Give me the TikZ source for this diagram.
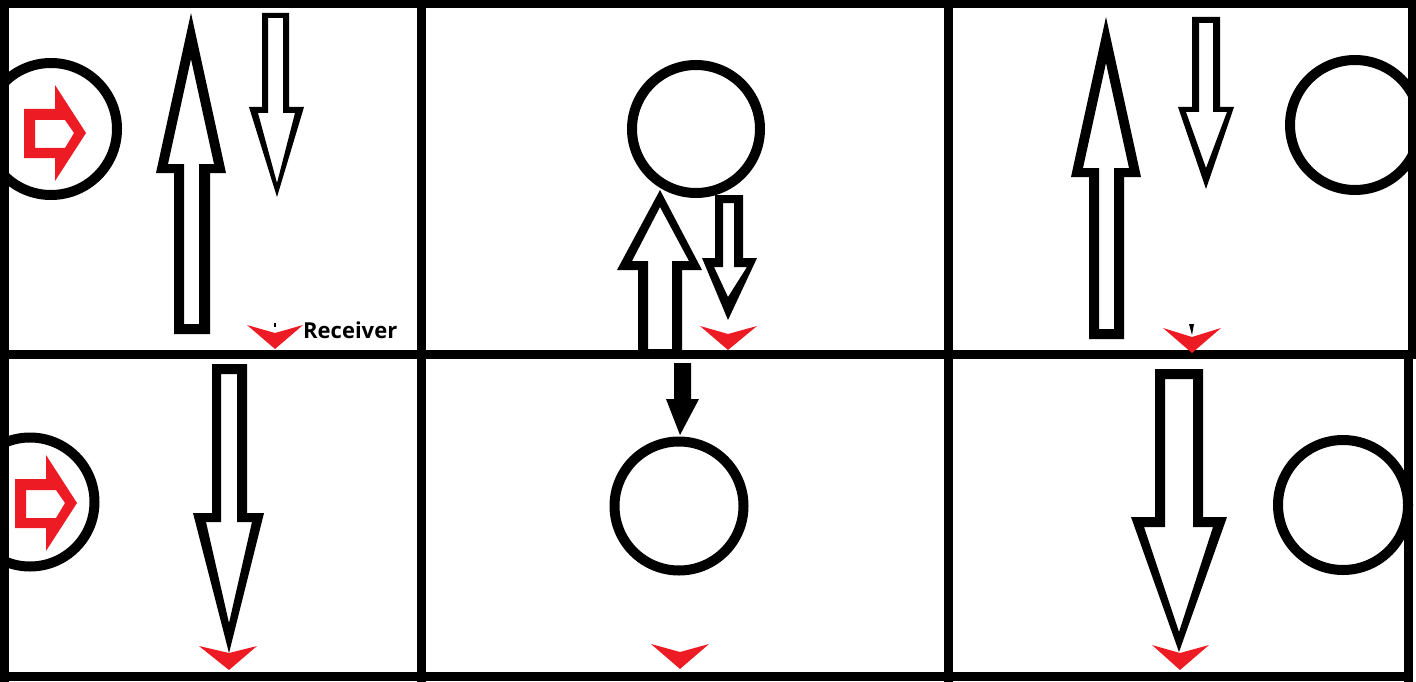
\documentclass[tikz,border=0pt]{standalone}
\usepackage{fontspec}
\newfontfamily\recfont{Open Sans}
\definecolor{mkred}{RGB}{237,28,36}
\tikzset{
  frame/.style={line width=9pt},
  ring/.style={line width=10pt},
  hollow/.style={fill=black, even odd rule},
  redarr/.style={fill=mkred, even odd rule},
  marker/.style={fill=mkred}
}
\begin{document}
\begin{tikzpicture}[x=1pt,y=-1pt]
\useasboundingbox (0,0) rectangle (1416,682);
\clip (0,0) rectangle (1416,682);
%----------circles-----------------------------
\draw[ring] (51,129) circle[radius=66pt];
\draw[ring] (696,129) circle[radius=64pt];
\draw[ring] (1355,125) circle[radius=65pt];
\draw[ring] (30,502) circle[radius=64.5pt];
\draw[ring] (679,506) circle[radius=64.5pt];
\draw[ring] (1343,505) circle[radius=65pt];
%----------red arrows--------------------------
\fill[redarr] (24,109) -- (55,109) -- (55,85) -- (86,133) -- (55,181) -- (55,158) -- (24,158) -- cycle
  (35,120) -- (65,120) -- (74,133) -- (65,148) -- (35,148) -- cycle;
\fill[redarr] (15,479) -- (46,479) -- (46,455) -- (77,503) -- (46,551) -- (46,528) -- (15,528) -- cycle
  (26,490) -- (56,490) -- (65,503) -- (56,518) -- (26,518) -- cycle;
%----------top row arrows----------------------
\fill[hollow] (191,13) -- (226,173) -- (210,173) -- (210,334) -- (174,334) -- (174,173) -- (156,173) -- cycle
  (191,59) -- (214,164) -- (199,164) -- (199,324) -- (184,324) -- (184,164) -- (168,164) -- cycle;
\fill[hollow] (262,13) -- (289,13) -- (289,107) -- (304,107) -- (277,197) -- (249,107) -- (262,107) -- cycle
  (268,18) -- (283,18) -- (283,113) -- (295,113) -- (277,183) -- (258,113) -- (268,113) -- cycle;
\fill[hollow] (660,190) -- (702,270) -- (682,270) -- (682,351) -- (638,351) -- (638,270) -- (617,270) -- cycle
  (660,207) -- (689,261) -- (672,261) -- (672,349) -- (648,349) -- (648,261) -- (632,261) -- cycle;
\fill[hollow] (715,195) -- (743,195) -- (743,258) -- (757,258) -- (728,320) -- (702,258) -- (715,258) -- cycle
  (723,203) -- (734,203) -- (734,267) -- (747,267) -- (728,297) -- (714,267) -- (723,267) -- cycle;
\fill[hollow] (1106,17) -- (1141,177) -- (1124,177) -- (1124,339) -- (1089,339) -- (1089,177) -- (1071,177) -- cycle
  (1106,63) -- (1129,168) -- (1114,168) -- (1114,329) -- (1099,329) -- (1099,168) -- (1083,168) -- cycle;
\fill[hollow] (1192,17) -- (1220,17) -- (1220,107) -- (1234,107) -- (1206,189) -- (1178,107) -- (1192,107) -- cycle
  (1199,23) -- (1213,23) -- (1213,112) -- (1227,112) -- (1206,168) -- (1186,112) -- (1199,112) -- cycle;
%----------bottom row arrows-------------------
\fill[hollow] (212,364) -- (247,364) -- (247,513) -- (264,513) -- (229,653) -- (193,513) -- (212,513) -- cycle
  (221,374) -- (237,374) -- (237,522) -- (252,522) -- (229,623) -- (206,522) -- (221,522) -- cycle;
\fill (674,363) -- (691,363) -- (691,399) -- (699,399) -- (680,435) -- (666,399) -- (674,399) -- cycle;
\fill[hollow] (1155,369) -- (1203,369) -- (1203,517) -- (1227,517) -- (1179,652) -- (1131,517) -- (1155,517) -- cycle
  (1165,379) -- (1193,379) -- (1193,527) -- (1213,527) -- (1179,632) -- (1144,527) -- (1165,527) -- cycle;
%----------grid--------------------------------
\draw[frame] (0,4) -- (1416,4);
\draw[frame] (0,354) -- (1416,354);
\draw[frame] (0,676.5) -- (1410,676.5);
\draw[frame] (4,0) -- (4,682);
\draw[frame] (421,0) -- (421,682);
\draw[frame] (948,0) -- (948,682);
\draw[frame] (1412,0) -- (1412,354);
\draw[frame] (1408,354) -- (1408,682);
%----------receiver markers--------------------
\fill[marker] (247,325) -- (275,349) -- (303,325) -- (275,333) -- cycle;
\fill[marker] (700,326) -- (728,350) -- (757,326) -- (728,334) -- cycle;
\fill[marker] (1163,328) -- (1192,353) -- (1221,328) -- (1192,337) -- cycle;
\fill[marker] (199,646) -- (229,670) -- (257,646) -- (229,653) -- cycle;
\fill[marker] (651,644) -- (680,669) -- (709,644) -- (680,652) -- cycle;
\fill[marker] (1152,645) -- (1180,670) -- (1209,645) -- (1180,653) -- cycle;
\draw[line width=2pt] (275,323) -- (275,327);
\fill (1189,324) -- (1194,324) -- (1192,335) -- cycle;
%----------text--------------------------------
\node[anchor=base west, inner sep=0pt, font={\recfont\bfseries\fontsize{22pt}{22pt}\selectfont}] (recv) at (303,338) {Receiver};
\end{tikzpicture}
\end{document}
